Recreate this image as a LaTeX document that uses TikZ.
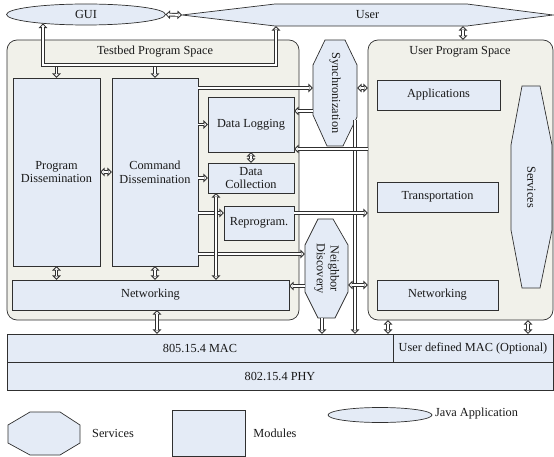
\documentclass[tikz,border=0pt]{standalone}
\usepackage{fontspec}
\setmainfont{Liberation Serif}
\usepackage{graphicx}
\usetikzlibrary{arrows.meta,shapes.geometric}
\definecolor{bfill}{HTML}{E4EBF6}
\definecolor{sfill}{HTML}{F1F1EA}
\definecolor{edge}{HTML}{303030}
\begin{document}
\begin{tikzpicture}[x=1pt,y=-1pt,
  every node/.style={font=\fontsize{12.3}{13.6}\selectfont, text=black!90, inner sep=0pt, outer sep=0pt},
  box/.style={draw=edge, line width=0.7pt, fill=bfill, align=center},
  space/.style={draw=edge, line width=0.7pt, fill=sfill, rounded corners=10pt},
  shp/.style={draw=edge, line width=0.7pt, fill=bfill},
  tipa/.tip={Triangle[width=8.5pt,length=4.6pt,line width=0.85pt,fill=white]},
  hol/.style={draw=edge, line width=3.7pt},
  ar/.style={hol, -tipa, postaction={draw=white, line width=1.9pt, arrows=-, shorten >=3.6pt}},
  arr/.style={hol, tipa-tipa, postaction={draw=white, line width=1.9pt, arrows=-, shorten >=3.6pt, shorten <=3.6pt}},
]
\fill[white] (0,0) rectangle (554,457);
\path[use as bounding box] (0,0) rectangle (554,457);
% top
\node[box, shape=ellipse, minimum width=159, minimum height=21] (gui) at (86,14.5) {GUI};
\draw[shp] (182,15) -- (275,4) -- (467,4) -- (553,15) -- (467,26) -- (275,26) -- cycle;
\node[minimum width=371, minimum height=22] (user) at (367.5,15) {User};
% spaces
\node[space, minimum width=292, minimum height=280] (tb) at (153,180) {};
\node (tbl) at (155,52) {Testbed Program Space};
\node[space, minimum width=185, minimum height=280] (ups) at (460.5,180) {};
\node (upsl) at (460,52) {User Program Space};
% boxes
\node[box, minimum width=87, minimum height=188] (pd) at (56.5,172) {Program\\Dissemination};
\node[box, minimum width=86, minimum height=188] (cd) at (155,172) {Command\\Dissemination};
\node[box, minimum width=277, minimum height=30] (neta) at (150.5,295) {Networking};
\node[box, minimum width=86, minimum height=55] (dl) at (251,124.5) {Data Logging};
\node[box, minimum width=86, minimum height=30] (dc) at (251,178) {Data\\Collection};
\node[box, minimum width=70, minimum height=34] (rp) at (259,223) {Reprogram.};
\node[box, minimum width=123, minimum height=30] (app) at (438.5,95) {Applications};
\node[box, minimum width=121, minimum height=30] (tr) at (437.5,197) {Transportation};
\node[box, minimum width=121, minimum height=30] (netb) at (437.5,295) {Networking};
\node[box, minimum width=386, minimum height=28] (mac) at (200,348) {805.15.4 MAC};
\node[box, minimum width=160, minimum height=28] (umac) at (473,348) {User defined MAC (Optional)};
\node[box, minimum width=546, minimum height=28] (phy) at (280,376) {802.15.4 PHY};
% services (octagons)
\draw[shp] (325,40) -- (345,40) -- (357,65) -- (357,117) -- (343,146) -- (327,146) -- (313,115) -- (313,65) -- cycle;
\node[minimum width=44, minimum height=106] (sync) at (335,93) {\rotatebox{-90}{Synchronization}};
\draw[shp] (318,219) -- (333,219) -- (348,245) -- (348,292) -- (335,318) -- (318,318) -- (305,292) -- (305,245) -- cycle;
\node[minimum width=43, minimum height=99] (nd) at (326.5,268.5) {\rotatebox{-90}{\begin{tabular}{@{}c@{}}Neighbor\\Discovery\end{tabular}}};
\draw[shp] (522,86) -- (540,86) -- (552,145) -- (552,230) -- (540,288) -- (522,288) -- (511,230) -- (511,145) -- cycle;
\node[minimum width=41, minimum height=202] (svc) at (531.5,187) {\rotatebox{-90}{Services}};
% connectors
\coordinate (busl) at (43,65);
\coordinate (busr) at (276,65);
\draw[ar] (pd.north |- busl) -- (pd.north);
\draw[ar] (cd.north |- busl) -- (cd.north);
\draw[arr] (gui.192 -| busl) -- (busl) -- (busr) -- (busr |- user.south);
\draw[arr] (gui.east) -- (user.west);
\draw[arr] (pd.east) -- (cd.west);
\draw[arr] (pd.south) -- (pd.south |- neta.north);
\draw[arr] (cd.south) -- (cd.south |- neta.north);
\draw[arr] (neta.south -| 157,0) -- (mac.north -| 157,0);
\draw[ar] (cd.east |- dl.west) -- (dl.west);
\draw[ar] (cd.east |- dc.west) -- (dc.west);
\draw[ar] (cd.east |- 0,213) -- (rp.west |- 0,213);
\draw[ar] (cd.east |- 0,254) -- (nd.west |- 0,254);
\draw[arr] (dl.south) -- (dc.north);
\draw[arr] (dc.south -| 216,0) -- (neta.north -| 216,0);
\draw[ar] (cd.east |- 0,88) -- (sync.west |- 0,88);
\draw[ar] (sync.west |- 0,111) -- (dl.east |- 0,111);
\draw[arr] (sync.east |- 0,88) -- (ups.west |- 0,88);
\draw[ar] ([shift={(-2,27)}]sync.east) -- (mac.north -| 355,0);
\draw[ar] (ups.west |- 0,149) -- (dl.east |- 0,149);
\draw[ar] (rp.east |- 0,213) -- (ups.west |- 0,213);
\draw[ar] (nd.west |- 0,286) -- (neta.east |- 0,286);
\draw[arr] (nd.east |- 0,285) -- (ups.west |- 0,285);
\draw[ar] (nd.south -| 322,0) -- (mac.north -| 322,0);
\draw[arr] (ups.south -| 388,0) -- (mac.north -| 388,0);
\draw[arr] (ups.south -| 528,0) -- (umac.north -| 528,0);
\draw[arr] (user.south -| 463,0) -- (ups.north -| 463,0);
% legend
\draw[shp] (30,412) -- (60,412) -- (80,425) -- (80,443) -- (60,455) -- (30,455) -- (8,443) -- (8,425) -- cycle;
\node (lgs) at (113,433) {Services};
\node[box, minimum width=73, minimum height=46] (lgm) at (208.5,433) {};
\node (lgmt) at (275,433) {Modules};
\node[box, shape=ellipse, minimum width=104, minimum height=15] (lge) at (380,415) {};
\node[anchor=west] (lget) at (435,414) {Java Application};
\end{tikzpicture}
\end{document}
